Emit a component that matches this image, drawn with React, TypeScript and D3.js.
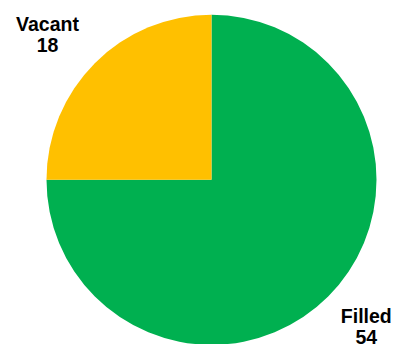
import React from "react";
import * as d3 from "d3";

const categories = ["Filled", "Vacant"];
const values = [54, 18];
const colors = ["#00B050", "#FFC000"];

const W = 394;
const H = 344;
const cx = 211.5;
const cy = 179.8;
const R = 165;

export default function App() {
  const pie = d3.pie<number>().sort(null).startAngle(0).endAngle(2 * Math.PI);
  const arcs = pie(values);
  const arc = d3.arc<d3.PieArcDatum<number>>().innerRadius(0).outerRadius(R);
  const labelPos = [
    { x: 366.3, y: 323.3 },
    { x: 47.5, y: 31 },
  ];
  return (
    <svg
      width={W}
      height={H}
      style={{ position: "absolute", left: 0, top: 0, display: "block" }}
    >
      <rect width={W} height={H} fill="#ffffff" />
      <g transform={`translate(${cx},${cy})`}>
        {arcs.map((a, i) => (
          <path key={categories[i]} d={arc(a) || ""} fill={colors[i]} />
        ))}
      </g>
      {arcs.map((a, i) => (
        <text
          key={"l" + categories[i]}
          x={labelPos[i].x}
          y={labelPos[i].y}
          textAnchor="middle"
          fontFamily="Liberation Sans, Arial, sans-serif"
          fontWeight="bold"
          fontSize={19.5}
          fill="#000"
        >
          <tspan x={labelPos[i].x}>{categories[i]}</tspan>
          <tspan x={labelPos[i].x} dy={20.7}>
            {values[i]}
          </tspan>
        </text>
      ))}
    </svg>
  );
}
